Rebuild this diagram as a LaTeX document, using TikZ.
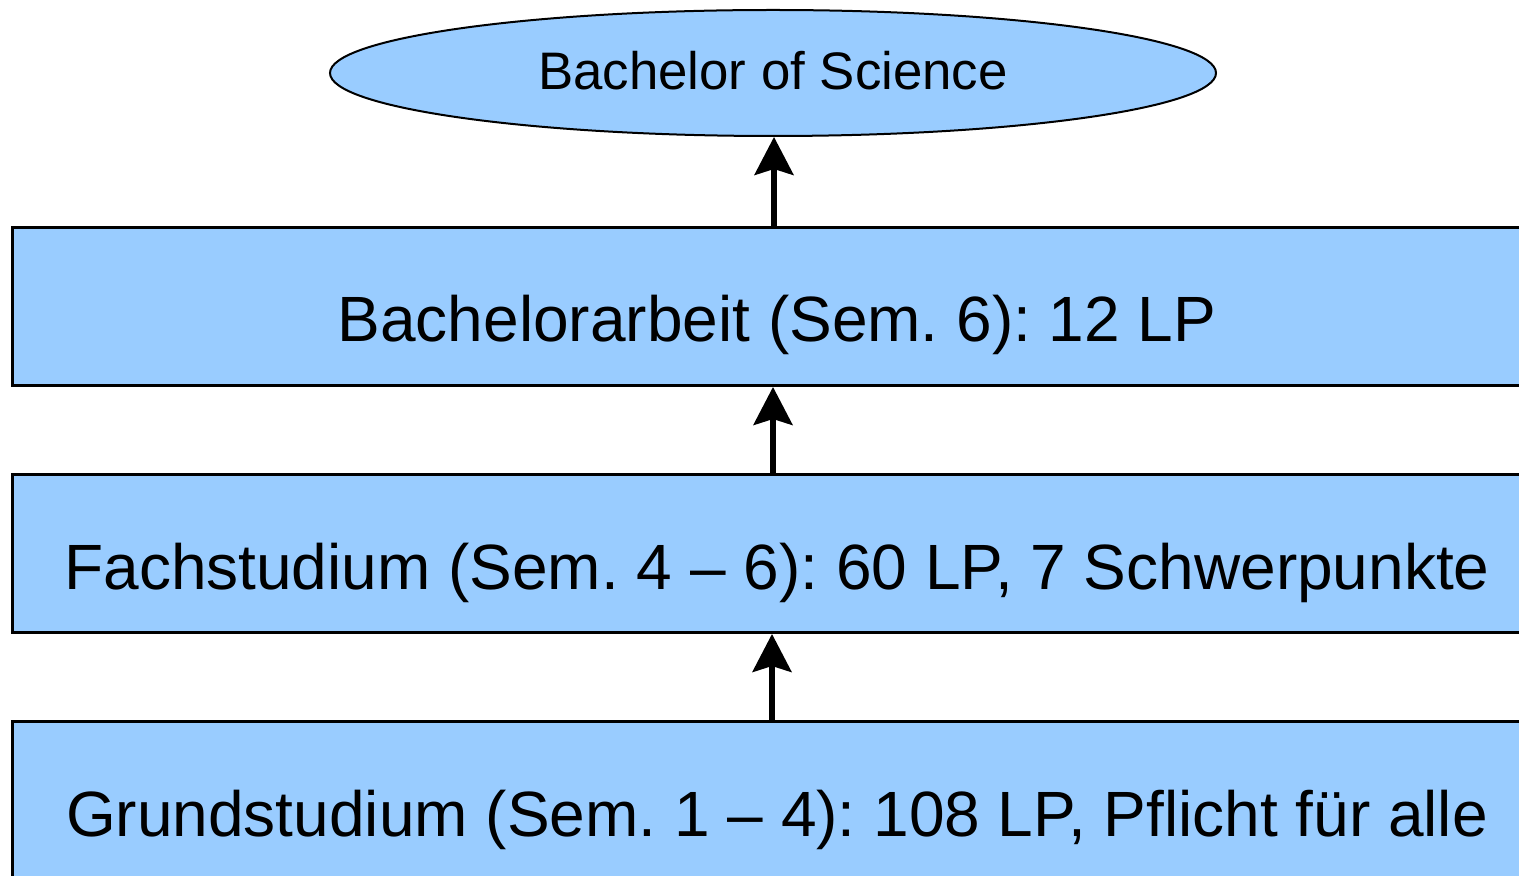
\documentclass[tikz,border=0pt]{standalone}
\usepackage{fontspec}
\setmainfont{Liberation Sans}
\frenchspacing
\definecolor{StudyBlue}{RGB}{153, 204, 255}
\usetikzlibrary{arrows.meta, positioning, shapes}

\begin{document}
\begin{tikzpicture}[
            node distance=43pt,
            phase/.style={rectangle, draw=black, line width=1.5pt, fill=StudyBlue,
                        minimum width=765pt, minimum height=79pt, inner sep=0pt,
                        text height=37pt, text depth=1.5pt,
                        font=\fontsize{32}{38}\selectfont},
            degree/.style={ellipse, draw=black, line width=1pt, fill=StudyBlue,
                        minimum width=443pt, minimum height=63pt, inner sep=0pt,
                        text depth=3pt,
                        font=\fontsize{26.4}{32}\selectfont},
            arrow/.style={-{Stealth[length=19pt, width=19.5pt, inset=3pt]}, line width=2.6pt, black}
        ]
            \useasboundingbox (0,0) rectangle (759.5pt,-438pt);
            \clip (0,0) rectangle (759.5pt,-438pt);

            \node[degree] (bsc) at (386.5pt,-36.5pt) {Bachelor of Science};
            \node[phase, below=44.5pt of bsc, xshift=2pt] (thesis) {Bachelorarbeit (Sem. 6): 12 LP};
            \node[phase, below=of thesis] (fach) {Fachstudium (Sem. 4 – 6): 60 LP, 7 Schwerpunkte};
            \node[phase, below=of fach] (grund) {Grundstudium (Sem. 1 – 4): 108 LP, Pflicht für alle};

            \draw[arrow] ([xshift=-1.5pt]thesis.north) -- ([xshift=-1.5pt]thesis.north |- bsc.south);
            \draw[arrow] ([xshift=-2pt]fach.north) -- ([xshift=-2pt]thesis.south);
            \draw[arrow] ([xshift=-2.5pt]grund.north) -- ([xshift=-2.5pt]fach.south);
        \end{tikzpicture}
\end{document}
